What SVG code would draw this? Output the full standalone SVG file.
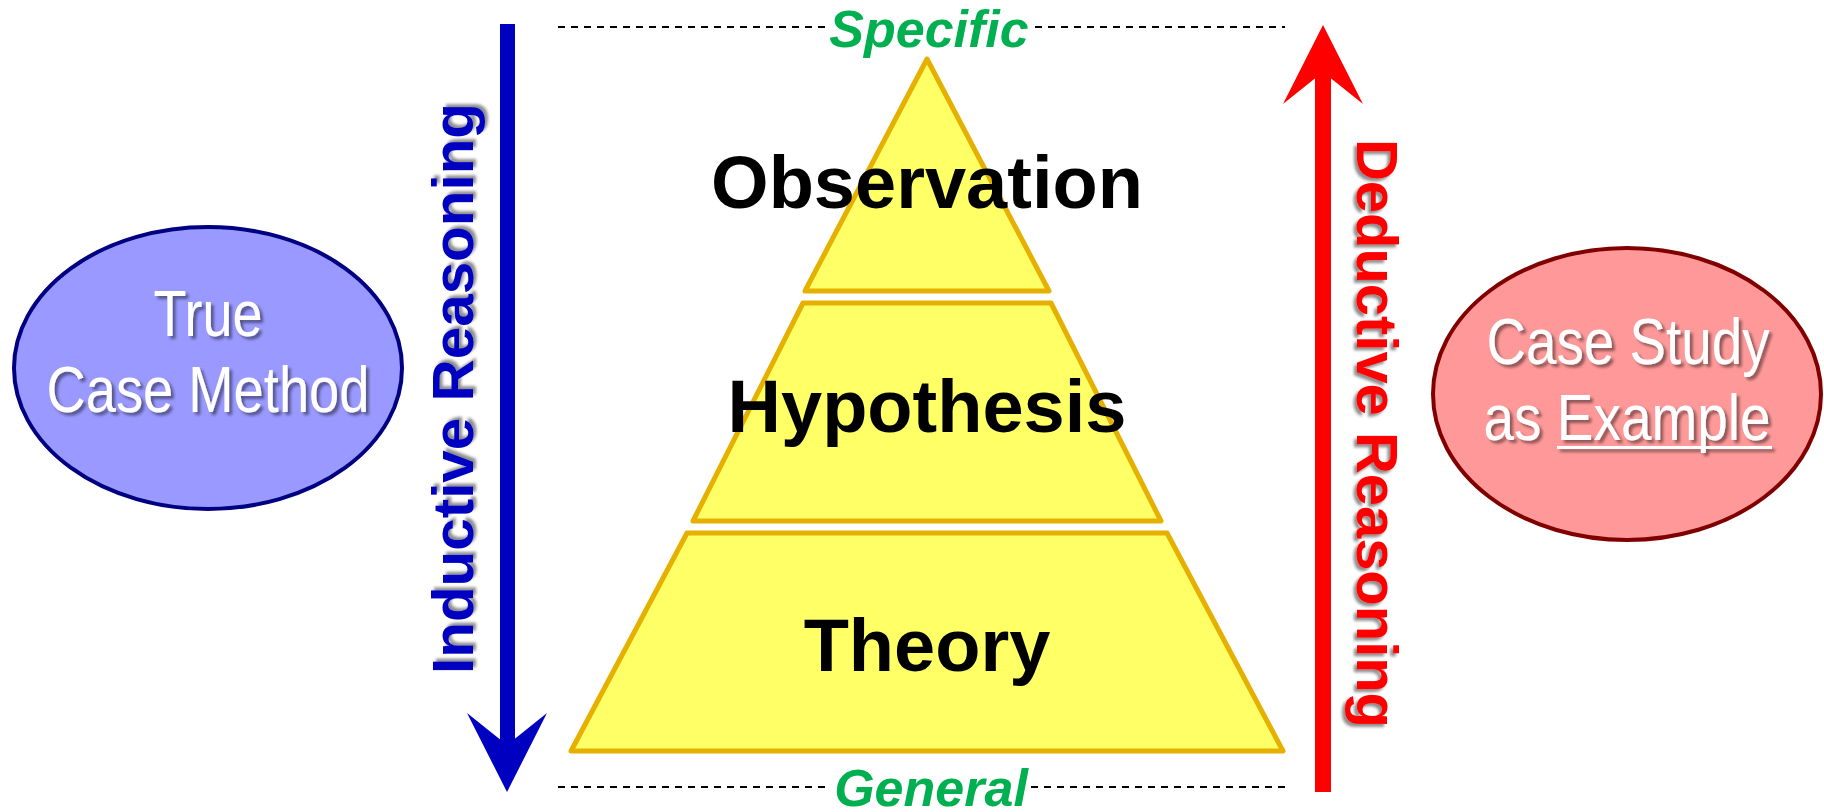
<svg xmlns="http://www.w3.org/2000/svg" width="1824" height="812" viewBox="0 0 1824 812">
<defs>
<style>
.lvl{fill:#FFFF66;stroke:#E6B000;stroke-width:5;stroke-linejoin:round}
.lvltxt{font-family:"Liberation Sans",Arial,sans-serif;font-weight:bold;font-size:74px;fill:#000;text-anchor:middle}
.ell{font-family:"Liberation Sans Narrow","Liberation Sans",Arial,sans-serif;font-size:65px;fill:#fff;text-anchor:middle}
.grn{font-family:"Liberation Sans",Arial,sans-serif;font-weight:bold;font-style:italic;font-size:52px;fill:#00B050;text-anchor:middle}
.rsn{font-family:"Liberation Sans",Arial,sans-serif;font-weight:bold;font-size:58px}
.dash{stroke:#000;stroke-width:2;stroke-dasharray:7 6;fill:none}
</style>
<filter id="sh" x="-10%" y="-10%" width="130%" height="130%">
<feGaussianBlur in="SourceAlpha" stdDeviation="1.5"/>
<feOffset dx="3" dy="3" result="o"/>
<feComponentTransfer><feFuncA type="linear" slope="0.45"/></feComponentTransfer>
<feMerge><feMergeNode/><feMergeNode in="SourceGraphic"/></feMerge>
</filter>
</defs>
<rect width="1824" height="812" fill="#fff"/>

<g id="connectors">
<path class="dash" d="M558 27H826M1035 27H1285"/>
<path class="dash" d="M558 787H831M1031 787H1285"/>
<rect x="500" y="24" width="15" height="722" fill="#0000C0"/>
<polygon points="507,792 547,713 507,745 467,713" fill="#0000C0"/>
<rect x="1315" y="70" width="16" height="722" fill="#FF0000"/>
<polygon points="1323,25 1363,104 1323,72 1283,104" fill="#FF0000"/>
</g>

<g id="specific"><text class="grn" x="929" y="47">Specific</text></g>
<g id="general"><text class="grn" x="931" y="806">General</text></g>

<g id="observation">
<polygon class="lvl" points="927,59 1049,291 805,291"/>
<text class="lvltxt" x="927" y="208">Observation</text>
</g>
<g id="hypothesis">
<polygon class="lvl" points="803,303 1051,303 1161,521 693,521"/>
<text class="lvltxt" x="927" y="432">Hypothesis</text>
</g>
<g id="theory">
<polygon class="lvl" points="687,533 1167,533 1283,751 571,751"/>
<text class="lvltxt" x="927" y="671">Theory</text>
</g>

<g id="inductive">
<text class="rsn" fill="#0000C0" filter="url(#sh)" transform="translate(473,674) rotate(-90)" x="0" y="0" textLength="571" lengthAdjust="spacingAndGlyphs">Inductive Reasoning</text>
</g>
<g id="deductive">
<text class="rsn" fill="#FF0000" filter="url(#sh)" transform="translate(1357,139) rotate(90)" x="0" y="0" textLength="589" lengthAdjust="spacingAndGlyphs">Deductive Reasoning</text>
</g>

<g id="true-case-method">
<ellipse cx="208" cy="368" rx="194" ry="141" fill="#9999FF" stroke="#000080" stroke-width="4"/>
<g filter="url(#sh)">
<text class="ell" x="208" y="336" textLength="109" lengthAdjust="spacingAndGlyphs">True</text>
<text class="ell" x="208" y="412" textLength="323" lengthAdjust="spacingAndGlyphs">Case Method</text>
</g>
</g>

<g id="case-study">
<ellipse cx="1627" cy="394" rx="194" ry="146" fill="#FF9999" stroke="#800000" stroke-width="4"/>
<g filter="url(#sh)">
<text class="ell" x="1628" y="364" textLength="283" lengthAdjust="spacingAndGlyphs">Case Study</text>
<text class="ell" x="1627" y="440" textLength="287" lengthAdjust="spacingAndGlyphs">as Example</text>
<rect x="1557" y="446" width="215" height="3" fill="#fff"/>
</g>
</g>
</svg>
